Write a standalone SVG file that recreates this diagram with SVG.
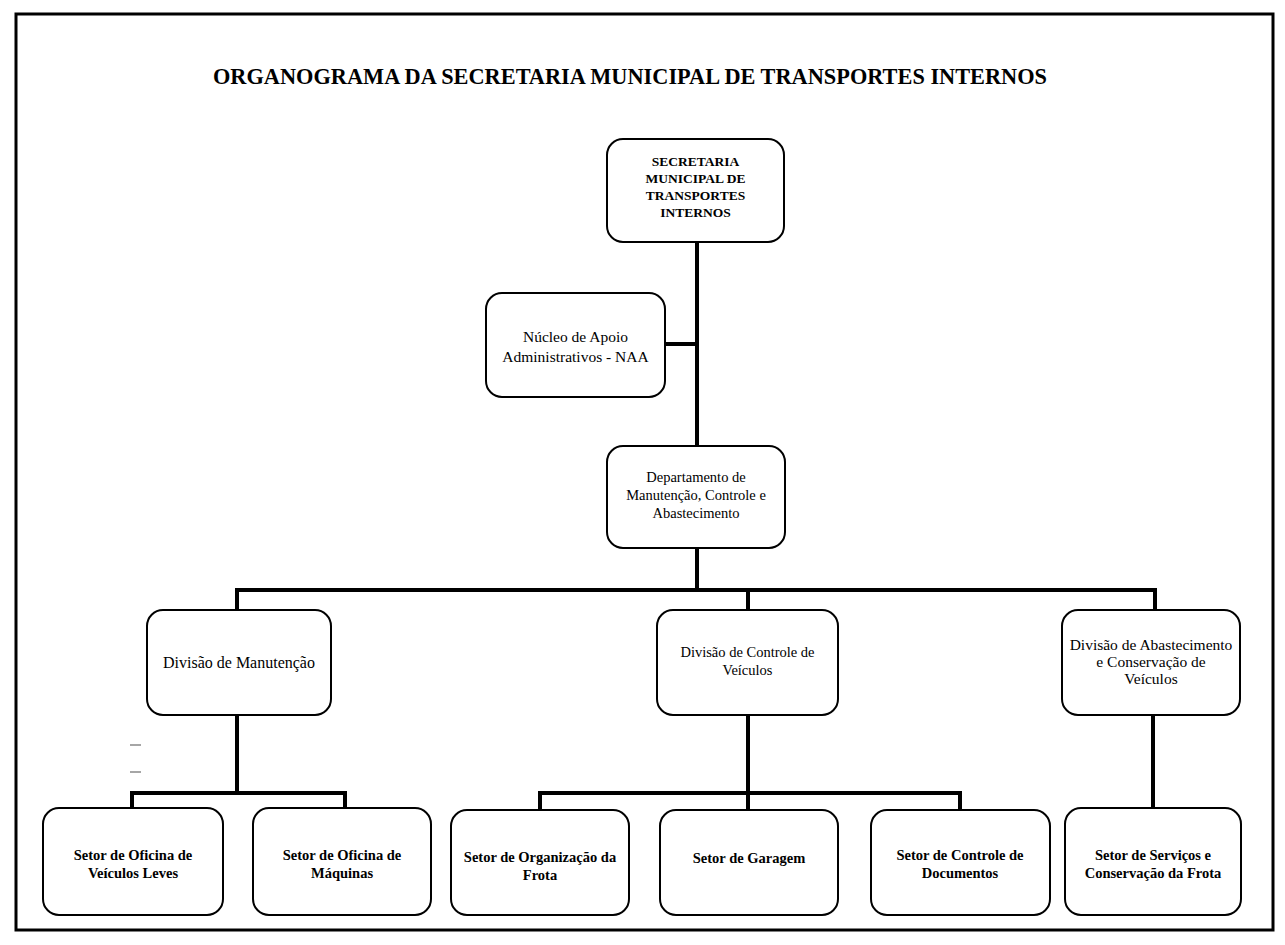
<svg xmlns="http://www.w3.org/2000/svg" width="1285" height="945" viewBox="0 0 1285 945">
<style>
.box{fill:#fff;stroke:#000;stroke-width:2}
.t{font-family:"Liberation Serif","Times New Roman",serif;font-size:14.5px;fill:#000;text-anchor:middle}
.b{font-weight:bold}
.c{stroke:#000;stroke-width:4;fill:none;stroke-linecap:square}
</style>
<rect x="0" y="0" width="1285" height="945" fill="#fff"/>
<rect x="16" y="14" width="1257" height="916" fill="none" stroke="#000" stroke-width="3"/>
<text x="630" y="84" class="t b" style="font-size:24px" textLength="834" lengthAdjust="spacingAndGlyphs">ORGANOGRAMA DA SECRETARIA MUNICIPAL DE TRANSPORTES INTERNOS</text>
<g id="connectors">
<path class="c" d="M697 242V548M665 344H697M697 548V590M237 590H1155M237 590V610M748 590V610M1155 590V610"/>
<path class="c" d="M237 715V793M132 793H345M132 793V808M345 793V808"/>
<path class="c" d="M748 715V810M540 793H960M540 793V810M960 793V810"/>
<path class="c" d="M1153 715V808"/>
</g>
<g id="marks" stroke="#888" stroke-width="1.5">
<line x1="130" y1="745" x2="141" y2="745"/>
<line x1="130" y1="772" x2="141" y2="772"/>
</g>
<g id="n-secretaria">
<rect class="box" x="607" y="139" width="177" height="103" rx="16"/>
<text class="t b" style="font-size:13.5px" x="695.5" y="166">SECRETARIA</text>
<text class="t b" style="font-size:13.5px" x="695.5" y="183">MUNICIPAL DE</text>
<text class="t b" style="font-size:13.5px" x="695.5" y="200">TRANSPORTES</text>
<text class="t b" style="font-size:13.5px" x="695.5" y="217">INTERNOS</text>
</g>
<g id="n-naa">
<rect class="box" x="486" y="293" width="179" height="104" rx="16"/>
<text class="t" style="font-size:15.5px" x="575.5" y="342">Núcleo de Apoio</text>
<text class="t" style="font-size:15.5px" x="575.5" y="362">Administrativos -  NAA</text>
</g>
<g id="n-departamento">
<rect class="box" x="607" y="446" width="178" height="102" rx="16"/>
<text class="t" x="696" y="482">Departamento de</text>
<text class="t" x="696" y="500">Manutenção, Controle e</text>
<text class="t" x="696" y="518">Abastecimento</text>
</g>
<g id="n-div-manutencao">
<rect class="box" x="147" y="610" width="184" height="105" rx="16"/>
<text class="t" style="font-size:16px" x="239" y="668">Divisão de Manutenção</text>
</g>
<g id="n-div-controle">
<rect class="box" x="657" y="610" width="181" height="105" rx="16"/>
<text class="t" x="747.5" y="657">Divisão de Controle de</text>
<text class="t" x="747.5" y="675">Veículos</text>
</g>
<g id="n-div-abastecimento">
<rect class="box" x="1062" y="610" width="178" height="105" rx="16"/>
<text class="t" style="font-size:15.5px" x="1151" y="650">Divisão de Abastecimento</text>
<text class="t" style="font-size:15.5px" x="1151" y="667">e Conservação de</text>
<text class="t" style="font-size:15.5px" x="1151" y="684">Veículos</text>
</g>
<g id="n-setor-leves">
<rect class="box" x="43" y="808" width="180" height="107" rx="16"/>
<text class="t b" x="133" y="860">Setor de Oficina de</text>
<text class="t b" x="133" y="878">Veículos Leves</text>
</g>
<g id="n-setor-maquinas">
<rect class="box" x="253" y="808" width="178" height="107" rx="16"/>
<text class="t b" x="342" y="860">Setor de Oficina de</text>
<text class="t b" x="342" y="878">Máquinas</text>
</g>
<g id="n-setor-organizacao">
<rect class="box" x="451" y="810" width="178" height="105" rx="16"/>
<text class="t b" x="540" y="862">Setor de Organização da</text>
<text class="t b" x="540" y="880">Frota</text>
</g>
<g id="n-setor-garagem">
<rect class="box" x="660" y="810" width="178" height="105" rx="16"/>
<text class="t b" x="749" y="863">Setor de Garagem</text>
</g>
<g id="n-setor-documentos">
<rect class="box" x="871" y="810" width="179" height="105" rx="16"/>
<text class="t b" x="960" y="860">Setor de Controle de</text>
<text class="t b" x="960" y="878">Documentos</text>
</g>
<g id="n-setor-servicos">
<rect class="box" x="1065" y="808" width="176" height="107" rx="16"/>
<text class="t b" x="1153" y="860">Setor de Serviços e</text>
<text class="t b" x="1153" y="878">Conservação da Frota</text>
</g>
</svg>
